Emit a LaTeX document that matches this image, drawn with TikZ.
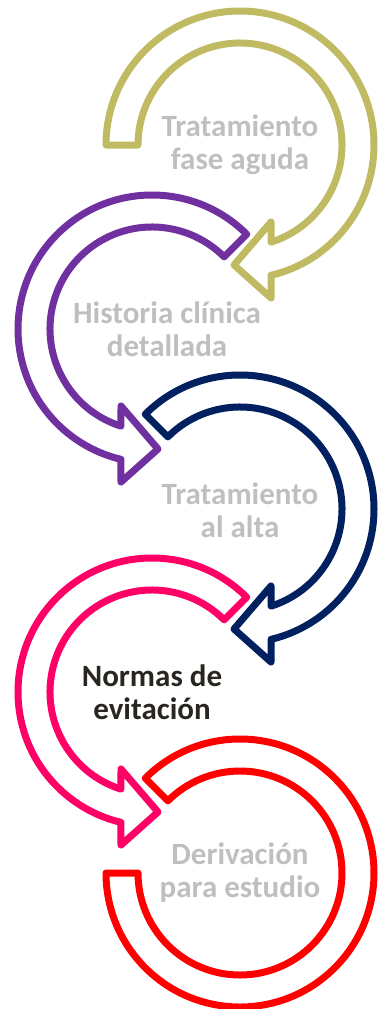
\documentclass[tikz,border=0pt]{standalone}
\usepackage{fontspec}
\setmainfont{Carlito}
\usepackage{tikz}

\definecolor{olivearc}{RGB}{192,187,98}
\definecolor{purplearc}{RGB}{112,48,160}
\definecolor{navyarc}{RGB}{0,32,96}
\definecolor{pinkarc}{RGB}{255,0,102}
\definecolor{redarc}{RGB}{255,0,0}
\definecolor{greytext}{RGB}{191,191,191}
\definecolor{darktext}{RGB}{40,38,30}

\begin{document}
\begin{tikzpicture}[x=1pt,y=1pt]
\tikzstyle{every node}+=[inner sep=0pt]
\tikzstyle{ring}=[line width=7pt, line join=round, fill=white]
\tikzstyle{steptext}=[align=center, font=\fontsize{31}{33}\selectfont\bfseries, text=greytext]
\useasboundingbox (0,0) rectangle (379,-1009);
\draw [ring, draw=olivearc, shift={(240,-145)}] (180:134) arc (180:-76.6:134) -- (31,-153) -- (-6,-120) -- (31,-77) -- (-72.3:102) arc (-72.3:180:102) -- cycle;
\draw [ring, draw=purplearc, shift={(152,-329)}] (45:134) arc (45:256.6:134) -- (-31,-153) -- (6,-120) -- (-31,-77) -- (252.3:102) arc (252.3:45:102) -- cycle;
\draw [ring, draw=navyarc, shift={(240,-509)}] (135:134) arc (135:-76.6:134) -- (31,-153) -- (-6,-120) -- (31,-77) -- (-72.3:102) arc (-72.3:135:102) -- cycle;
\draw [ring, draw=pinkarc, shift={(152,-692)}] (45:134) arc (45:256.6:134) -- (-31,-153) -- (6,-120) -- (-31,-77) -- (252.3:102) arc (252.3:45:102) -- cycle;
\draw [ring, draw=redarc, shift={(240,-873)}] (135:134) arc (135:-180:134) -- (180:102) arc (-180:135:102) -- cycle;
\node [steptext] (agudo) at (240,-145) {Tratamiento\\fase aguda};
\node [steptext] (historia) at (167,-329) {Historia clínica\\detallada};
\node [steptext] (alta) at (240,-510) {Tratamiento\\al alta};
\node [steptext, text=darktext] (normas) at (152,-692) {Normas de\\evitación};
\node [steptext] (derivacion) at (240,-873) {Derivación\\para estudio};
\end{tikzpicture}
\end{document}
